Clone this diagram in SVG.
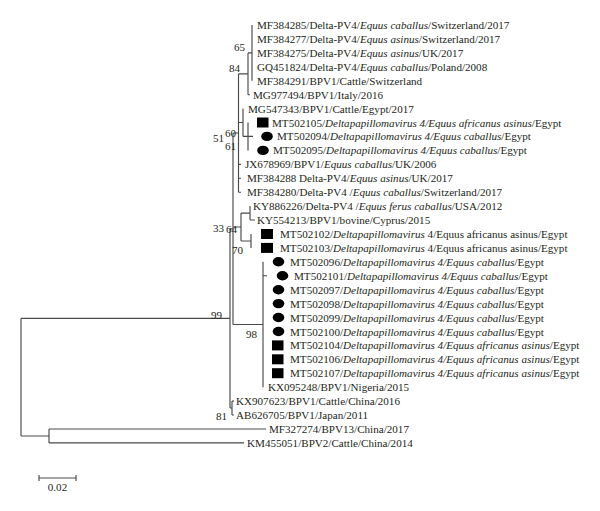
<svg xmlns="http://www.w3.org/2000/svg" width="600" height="511" viewBox="0 0 600 511">
<style>
text{font-family:"Liberation Serif","DejaVu Serif",serif;font-size:11.1px;fill:#231f20}
.i{font-style:italic}
.bs{text-anchor:end}
.br{fill:none;stroke:#4a4a4a;stroke-width:1.15}
.m{fill:#000}
</style>
<rect width="600" height="511" fill="#fff"/>
<g id="connectors" class="br">
<path d="M21 318.4V436M21 318.4H230M21 436H49M49 429V442.9M49 429H266M49 442.9H244"/>
<path d="M230 228.75V408M230 408H232M232 401.1V415M232 401.1H234M232 415H234"/>
<path d="M230 228.75H233M233 133V324.5"/>
<path d="M233 324.5H263M263 261.8V387.2M263 275.7H267"/>
<path d="M233 227H241M241 213.05V240.95M241 213.05H250M250 206.1V220M250 220H255M241 240.95H251M251 234V247.9"/>
<path d="M233 133H238.5M238.5 73.8V192.2M238.5 164.3H241M238.5 178.2H241M238.5 192.2H241"/>
<path d="M238.5 73.8H248M248 52.9V94.7M248 94.7H250M248 52.9H252M252 25V80.7"/>
<path d="M238.5 122.5H243M243 108.6V136.4M243 136.4H248M248 122.5V150.4M248 136.4H253"/>
</g>
<g id="bootstrap">
<text class="bs" x="245" y="51">65</text>
<text class="bs" x="240" y="72">84</text>
<text class="bs" x="236" y="137">60</text>
<text class="bs" x="224" y="142">51</text>
<text class="bs" x="236" y="150">61</text>
<text class="bs" x="224" y="232">33</text>
<text class="bs" x="237" y="233">64</text>
<text class="bs" x="243" y="254">70</text>
<text class="bs" x="222" y="319">99</text>
<text class="bs" x="257" y="338">98</text>
<text class="bs" x="227" y="420">81</text>
</g>
<g id="tip-MF384285"><text x="257" y="29">MF384285/Delta-PV4/<tspan class="i">Equus caballus</tspan>/Switzerland/2017</text></g>
<g id="tip-MF384277"><text x="257" y="42.9">MF384277/Delta-PV4/<tspan class="i">Equus asinus</tspan>/Switzerland/2017</text></g>
<g id="tip-MF384275"><text x="257" y="56.9">MF384275/Delta-PV4/<tspan class="i">Equus asinus</tspan>/UK/2017</text></g>
<g id="tip-GQ451824"><text x="257" y="70.8">GQ451824/Delta-PV4/<tspan class="i">Equus caballus</tspan>/Poland/2008</text></g>
<g id="tip-MF384291"><text x="257" y="84.7">MF384291/BPV1/Cattle/Switzerland</text></g>
<g id="tip-MG977494"><text x="253" y="98.7">MG977494/BPV1/Italy/2016</text></g>
<g id="tip-MG547343"><text x="248" y="112.6">MG547343/BPV1/Cattle/Egypt/2017</text></g>
<g id="tip-MT502105"><rect class="m" x="257" y="117.5" width="11.5" height="10"/><text x="272" y="126.5">MT502105/<tspan class="i">Deltapapillomavirus 4/Equus africanus asinus</tspan>/Egypt</text></g>
<g id="tip-MT502094"><ellipse class="m" cx="267" cy="136.4" rx="5.8" ry="4.7"/><text x="277" y="140.4">MT502094/<tspan class="i">Deltapapillomavirus 4/Equus caballus</tspan>/Egypt</text></g>
<g id="tip-MT502095"><ellipse class="m" cx="263" cy="150.4" rx="5.8" ry="4.7"/><text x="273" y="154.4">MT502095/<tspan class="i">Deltapapillomavirus 4/Equus caballus</tspan>/Egypt</text></g>
<g id="tip-JX678969"><text x="245" y="168.3">JX678969/BPV1/<tspan class="i">Equus caballus</tspan>/UK/2006</text></g>
<g id="tip-MF384288"><text x="247" y="182.2">MF384288 Delta-PV4/<tspan class="i">Equus asinus</tspan>/UK/2017</text></g>
<g id="tip-MF384280"><text x="247" y="196.2">MF384280/Delta-PV4 /<tspan class="i">Equus caballus</tspan>/Switzerland/2017</text></g>
<g id="tip-KY886226"><text x="253" y="210.1">KY886226/Delta-PV4 /<tspan class="i">Equus ferus caballus</tspan>/USA/2012</text></g>
<g id="tip-KY554213"><text x="257" y="224">KY554213/BPV1/bovine/Cyprus/2015</text></g>
<g id="tip-MT502102"><rect class="m" x="261" y="229" width="12" height="10"/><text x="280" y="238">MT502102/<tspan class="i">Deltapapillomavirus</tspan> 4/Equus africanus asinus/Egypt</text></g>
<g id="tip-MT502103"><rect class="m" x="261" y="242.9" width="12" height="10"/><text x="280" y="251.9">MT502103/<tspan class="i">Deltapapillomavirus</tspan> 4/Equus africanus asinus/Egypt</text></g>
<g id="tip-MT502096"><ellipse class="m" cx="278.5" cy="261.8" rx="5.8" ry="4.7"/><text x="290" y="265.8">MT502096/<tspan class="i">Deltapapillomavirus 4/Equus caballus</tspan>/Egypt</text></g>
<g id="tip-MT502101"><ellipse class="m" cx="282.5" cy="275.7" rx="5.8" ry="4.7"/><text x="294" y="279.7">MT502101/<tspan class="i">Deltapapillomavirus 4/Equus caballus</tspan>/Egypt</text></g>
<g id="tip-MT502097"><ellipse class="m" cx="278.5" cy="289.7" rx="5.8" ry="4.7"/><text x="290" y="293.7">MT502097/<tspan class="i">Deltapapillomavirus 4/Equus caballus</tspan>/Egypt</text></g>
<g id="tip-MT502098"><ellipse class="m" cx="278.5" cy="303.6" rx="5.8" ry="4.7"/><text x="290" y="307.6">MT502098/<tspan class="i">Deltapapillomavirus 4/Equus caballus</tspan>/Egypt</text></g>
<g id="tip-MT502099"><ellipse class="m" cx="278.5" cy="317.5" rx="5.8" ry="4.7"/><text x="290" y="321.5">MT502099/<tspan class="i">Deltapapillomavirus 4/Equus caballus</tspan>/Egypt</text></g>
<g id="tip-MT502100"><ellipse class="m" cx="278.5" cy="331.5" rx="5.8" ry="4.7"/><text x="290" y="335.5">MT502100/<tspan class="i">Deltapapillomavirus 4/Equus caballus</tspan>/Egypt</text></g>
<g id="tip-MT502104"><rect class="m" x="272" y="340.4" width="11.5" height="10"/><text x="290" y="349.4">MT502104/<tspan class="i">Deltapapillomavirus 4/Equus africanus asinus</tspan>/Egypt</text></g>
<g id="tip-MT502106"><rect class="m" x="272" y="354.3" width="11.5" height="10"/><text x="290" y="363.3">MT502106/<tspan class="i">Deltapapillomavirus 4/Equus africanus asinus</tspan>/Egypt</text></g>
<g id="tip-MT502107"><rect class="m" x="272" y="368.2" width="11.5" height="10"/><text x="290" y="377.2">MT502107/<tspan class="i">Deltapapillomavirus 4/Equus africanus asinus</tspan>/Egypt</text></g>
<g id="tip-KX095248"><text x="268" y="391.2">KX095248/BPV1/Nigeria/2015</text></g>
<g id="tip-KX907623"><text x="236" y="405.1">KX907623/BPV1/Cattle/China/2016</text></g>
<g id="tip-AB626705"><text x="236" y="419">AB626705/BPV1/Japan/2011</text></g>
<g id="tip-MF327274"><text x="269" y="433">MF327274/BPV13/China/2017</text></g>
<g id="tip-KM455051"><text x="247" y="446.9">KM455051/BPV2/Cattle/China/2014</text></g>
<g id="scale-bar">
<path class="br" d="M39 478H76M39 475V481M76 475V481"/>
<text x="57.5" y="491" text-anchor="middle">0.02</text>
</g>
</svg>
